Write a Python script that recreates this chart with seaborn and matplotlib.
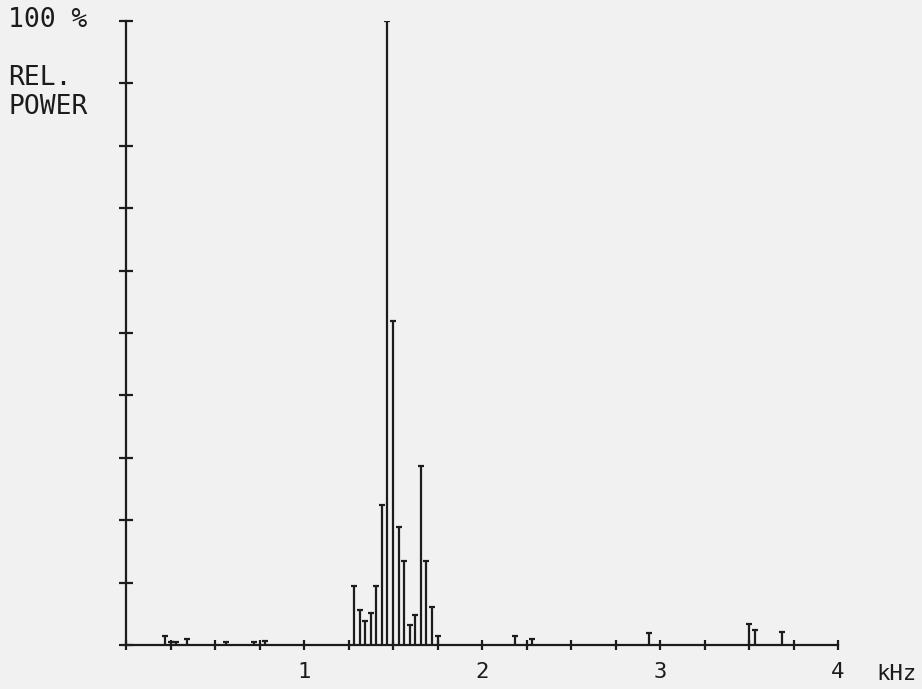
import numpy as np
import pandas as pd
import matplotlib
matplotlib.use('Agg')
import matplotlib.pyplot as plt
import seaborn as sns

# spectrum bins (31.25 Hz spacing) and relative power in %
bins = [7, 8, 9, 11, 18, 23, 25,
        41, 42, 43, 44, 45, 46, 47, 48, 49, 50, 51, 52, 53, 54, 55, 56,
        70, 73, 94, 112, 113, 118]
power = [1.4, 0.5, 0.5, 0.9, 0.5, 0.5, 0.6,
         9.5, 5.6, 3.9, 5.2, 9.4, 22.5, 100, 52, 18.9, 13.4, 3.2, 4.8, 28.7, 13.5, 6.1, 1.5,
         1.5, 0.9, 1.9, 3.3, 2.4, 2.1]
xtick_labels = ['1', '2', '3', '4']

bin_width_khz = 0.03125
df = pd.DataFrame({'freq': np.array(bins) * bin_width_khz, 'power': power})

sns.set_style('ticks')
plt.rcParams['font.family'] = ['DejaVu Sans Mono', 'DejaVu Sans']
bg = '#f1f1f1'
ink = '#1c1c1c'

fig = plt.figure(figsize=(9.22, 6.89), dpi=100, facecolor=bg)
ax = fig.add_axes([0.1367, 0.0639, 0.7722, 0.9056], facecolor=bg)

ax.vlines(df['freq'], 0, df['power'], color=ink, lw=1.6)
sns.scatterplot(data=df, x='freq', y='power', marker='_', s=18, color=ink,
                linewidth=1.6, ax=ax, legend=False)

ax.set_xlim(0, 4)
ax.set_ylim(0, 100)
xt = np.arange(0, 4.01, 0.25)
ax.set_xticks(xt)
ax.set_xticklabels([xtick_labels[int(v) - 1] if (v % 1 == 0 and v > 0) else '' for v in xt])
ax.set_yticks(np.arange(0, 101, 10))
ax.set_yticklabels([])
ax.tick_params(axis='x', bottom=True, direction='inout', length=7, width=1.6, color=ink,
               pad=9, labelsize=16, labelcolor=ink)
ax.tick_params(axis='y', left=True, direction='inout', length=10, width=1.6, color=ink)
ax.set_xlabel('')
ax.set_ylabel('')

sns.despine(ax=ax)
for side in ['left', 'bottom']:
    ax.spines[side].set_color(ink)
    ax.spines[side].set_linewidth(1.6)

fig.text(8 / 922, 1 - 20 / 689, '100 %', fontsize=19, color=ink, va='center', ha='left')
fig.text(8 / 922, 1 - 78 / 689, 'REL.', fontsize=19, color=ink, va='center', ha='left')
fig.text(8 / 922, 1 - 107 / 689, 'POWER', fontsize=19, color=ink, va='center', ha='left')
fig.text(896 / 922, 1 - 674 / 689, 'kHz', fontsize=16, color=ink, va='center', ha='center')

fig.savefig('out.png', dpi=100, facecolor=bg)
